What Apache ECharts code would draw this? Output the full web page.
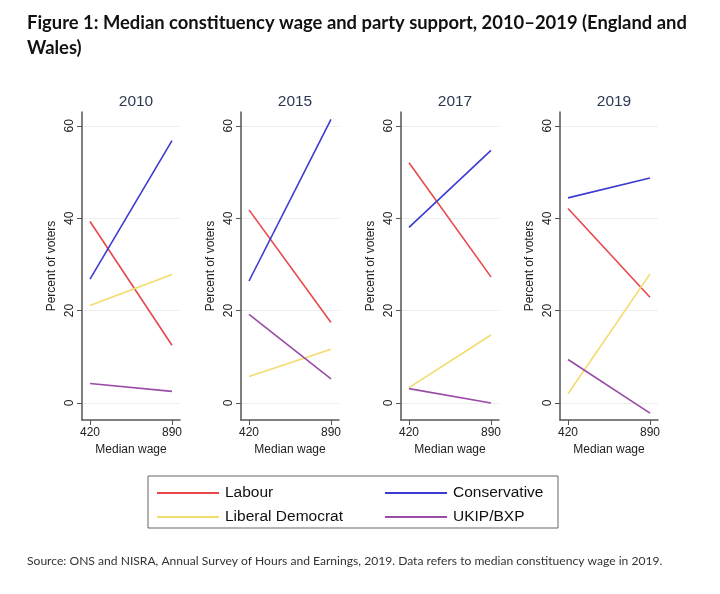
<!DOCTYPE html>
<html><head><meta charset="utf-8">
<script src="https://cdn.jsdelivr.net/npm/echarts@6/dist/echarts.min.js"></script>
<style>html,body{margin:0;padding:0;background:#fff;}#c{width:720px;height:594px;}</style>
</head><body><div id="c"></div>
<script>
const years = ['2010', '2015', '2017', '2019'];
const wages = [420, 890];
const yTicks = [0, 20, 40, 60];
const parties = ['Labour', 'Conservative', 'Liberal Democrat', 'UKIP/BXP'];
const colors = ['#e8474b', '#3b3bd1', '#f2dc6c', '#9a4ba6'];
// values at [420, 890] for each year
const labour       = [[39.3, 12.5], [41.8, 17.4], [52.0, 27.3], [42.1, 22.9]];
const conservative = [[26.8, 56.8], [26.4, 61.4], [38.0, 54.7], [44.4, 48.7]];
const libdem       = [[21.1, 27.8], [5.7, 11.6], [3.3, 14.7], [2.0, 27.9]];
const ukip         = [[4.2, 2.5], [19.2, 5.2], [3.1, 0.0], [9.4, -2.2]];
const partyData = [labour, conservative, libdem, ukip];

const chart = echarts.init(document.getElementById('c'));
const lefts = [82, 241, 401, 560];
const grids = [], xAxes = [], yAxes = [], series = [], titles = [];
years.forEach((yr, i) => {
  grids.push({left: lefts[i], top: 112, width: 98, height: 308});
  titles.push({text: yr, left: lefts[i] + 49, top: 89, textAlign: 'center',
    textStyle: {fontFamily: 'Liberation Sans', fontSize: 15.5, fontWeight: 'normal', color: '#2b3a52'}});
  xAxes.push({type: 'value', gridIndex: i, min: 374, max: 936,
    name: 'Median wage', nameLocation: 'middle', nameGap: 21,
    nameTextStyle: {fontFamily: 'Liberation Sans', fontSize: 12, color: '#222'},
    axisLine: {onZero: false, lineStyle: {color: '#555', width: 1.5}},
    axisTick: {customValues: wages, length: 5, lineStyle: {color: '#555'}},
    axisLabel: {customValues: wages, fontFamily: 'Liberation Sans', fontSize: 12, color: '#222', margin: 7},
    splitLine: {show: false}});
  yAxes.push({type: 'value', gridIndex: i, min: -3.7, max: 63,
    name: 'Percent of voters', nameLocation: 'middle', nameGap: 24, nameRotate: 90,
    nameTextStyle: {fontFamily: 'Liberation Sans', fontSize: 12, color: '#222'},
    axisLine: {show: true, onZero: false, lineStyle: {color: '#555', width: 1.5}},
    axisTick: {show: true, customValues: yTicks, length: 5, lineStyle: {color: '#555'}},
    axisLabel: {customValues: yTicks, rotate: 90, fontFamily: 'Liberation Sans', fontSize: 12, color: '#222', margin: 6},
    splitLine: {show: true, lineStyle: {color: '#eeeeee', width: 1}}});
  parties.forEach((p, k) => {
    series.push({name: p, type: 'line', xAxisIndex: i, yAxisIndex: i,
      data: wages.map((w, j) => [w, partyData[k][i][j]]),
      symbol: 'none', lineStyle: {color: colors[k], width: 1.6}, itemStyle: {color: colors[k]},
      silent: true, animation: false});
  });
});

const legendCommon = {orient: 'vertical', top: 480, itemWidth: 62, itemHeight: 10, itemGap: 8,
  icon: 'path://M0,4H62V6H0Z',
  textStyle: {fontFamily: 'Liberation Sans', fontSize: 15.5, color: '#111', padding: [0, 0, 0, 1]}};

chart.setOption({
  animation: false,
  title: [
    {text: 'Figure 1: Median constituency wage and party support, 2010–2019 (England and\nWales)',
     left: 22, top: 6,
     textStyle: {fontFamily: 'Lato', fontSize: 18.4, fontWeight: 'bold', color: '#111', lineHeight: 25}},
    {text: 'Source: ONS and NISRA, Annual Survey of Hours and Earnings, 2019. Data refers to median constituency wage in 2019.',
     left: 22, top: 550,
     textStyle: {fontFamily: 'Lato', fontSize: 12.1, fontWeight: 'normal', color: '#333'}},
    ...titles
  ],
  legend: [
    Object.assign({left: 152, data: ['Labour', 'Liberal Democrat']}, legendCommon),
    Object.assign({left: 380, data: ['Conservative', 'UKIP/BXP']}, legendCommon)
  ],
  graphic: [{type: 'rect', shape: {x: 148, y: 476, width: 410, height: 52},
    style: {fill: 'none', stroke: '#666', lineWidth: 1}, silent: true}],
  grid: grids, xAxis: xAxes, yAxis: yAxes, series: series
});
</script></body></html>
